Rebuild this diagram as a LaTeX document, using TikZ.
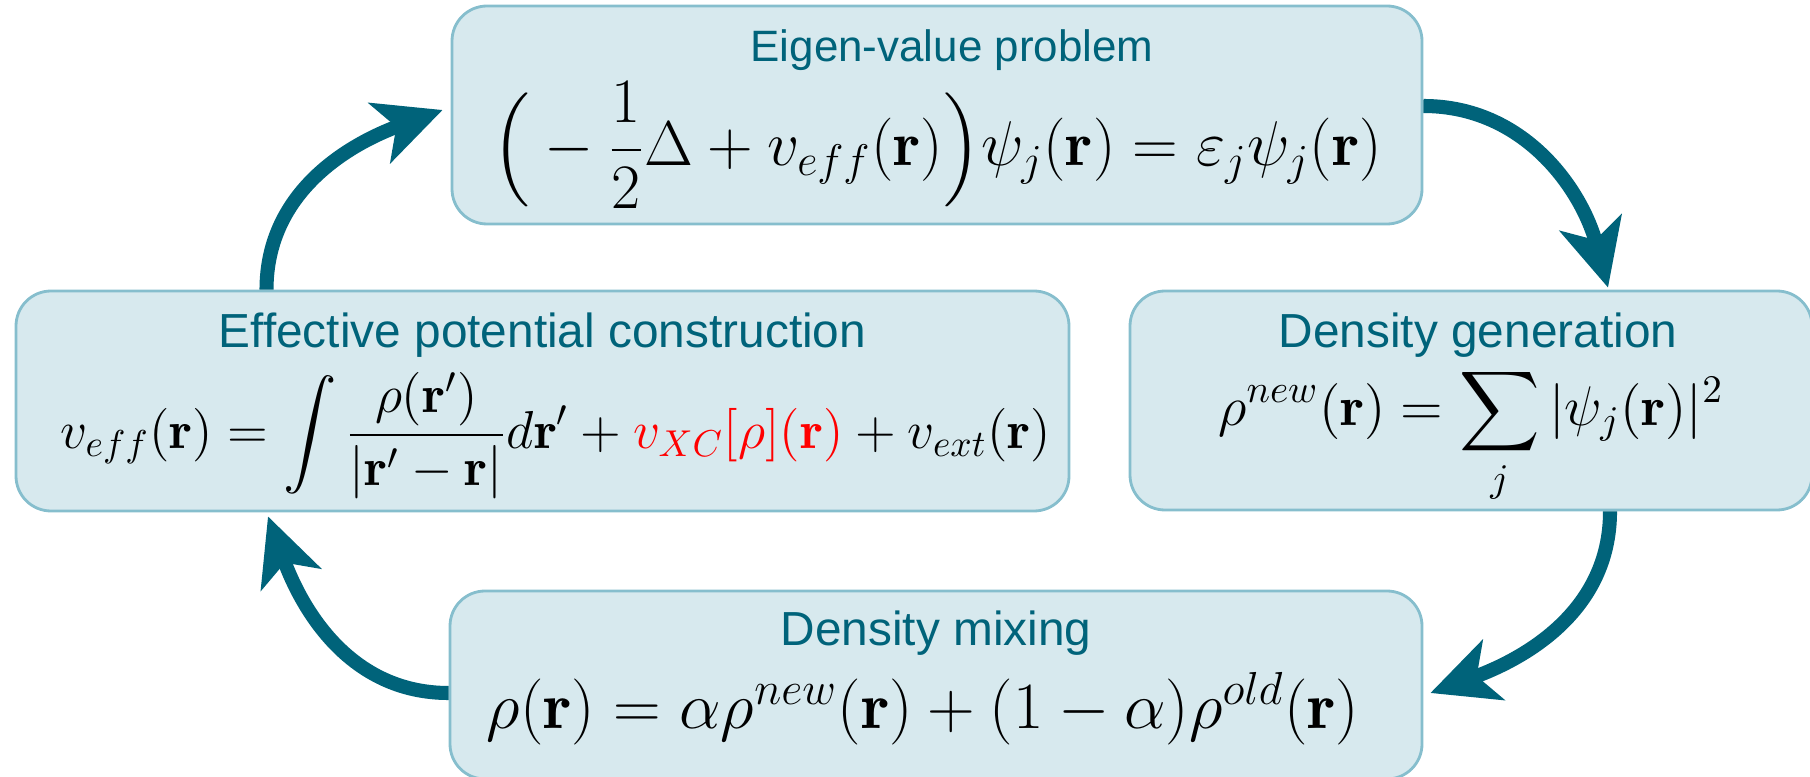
\RequirePackage{fix-cm}
\documentclass[tikz,border=0pt]{standalone}
\usepackage{amsmath, amssymb}
\usepackage{fontspec}
\newfontfamily\titlefont{Liberation Sans}
\usetikzlibrary{arrows.meta, calc, positioning}
\definecolor{boxfill}{RGB}{215,233,238}
\definecolor{boxline}{RGB}{134,190,205}
\definecolor{loopteal}{RGB}{0,99,122}

\begin{document}
\begin{tikzpicture}[
  stage/.style={draw=boxline, fill=boxfill, line width=0.8pt, rounded corners=0.35cm, inner sep=0pt},
  stagetitle/.style={text=loopteal, anchor=base, font=\titlefont\fontsize{#1}{15}\selectfont},
  stagetitle/.default=13.6,
  stageeq/.style={anchor=base, font=\fontsize{#1}{22}\selectfont},
  cyclearrow/.style={draw=loopteal, line width=4pt, -{Stealth[length=19pt, width=18pt, inset=5pt]}}
]
\useasboundingbox (0,0) rectangle (18.10,-7.77);
% the four stages
\node[stage, minimum width=9.70cm, minimum height=2.18cm] (eig) at (9.37,-1.15) {};
\node[stage, minimum width=10.53cm, minimum height=2.20cm] (eff) at (5.425,-4.01) {};
\node[stage, minimum width=6.82cm, minimum height=2.19cm] (den) at (14.71,-4.005) {};
\node[stage, minimum width=9.72cm, minimum height=1.88cm] (mix) at (9.36,-6.85) {};
% titles
\node[stagetitle=12.5] (eigtitle) at ($(eig.north)+(0.15,-0.57)$) {Eigen-value problem};
\node[stagetitle] (efftitle) at ($(eff.north)+(0,-0.58)$) {Effective potential construction};
\node[stagetitle] (dentitle) at ($(den.north)+(0.07,-0.58)$) {Density generation};
\node[stagetitle] (mixtitle) at ($(mix.north)+(0,-0.56)$) {Density mixing};
% equations
\node[stageeq=18] (eigeq) at ($(eig.north)+(0,-1.61)$)
  {$\displaystyle\Big(-\frac{1}{2}\Delta+v_{eff}(\mathbf{r})\Big)\psi_j(\mathbf{r})=\varepsilon_j\psi_j(\mathbf{r})$};
\node[stageeq=15.2] (effeq) at ($(eff.north)+(0.13,-1.59)$)
  {$\displaystyle v_{eff}(\mathbf{r})=\int\frac{\rho(\mathbf{r}')}{\left|\mathbf{r}'-\mathbf{r}\right|}d\mathbf{r}'+\textcolor{red}{v_{XC}[\rho](\mathbf{r})}+v_{ext}(\mathbf{r})$};
\node[stageeq=15.9] (deneq) at ($(den.north)+(0,-1.36)$)
  {$\displaystyle\rho^{new}(\mathbf{r})=\sum_j|\psi_j(\mathbf{r})|^2$};
\node[stageeq=18.8] (mixeq) at ($(mix.north)+(-0.13,-1.39)$)
  {$\rho(\mathbf{r})=\alpha\rho^{new}(\mathbf{r})+(1-\alpha)\rho^{old}(\mathbf{r})$};
% the self-consistency loop
\draw[cyclearrow] ([xshift=-2.76cm]eff.north) to[out=90, in=200] ([xshift=-0.08cm, yshift=0.05cm]eig.west);
\draw[cyclearrow] ([yshift=0.09cm]eig.east) to[out=0, in=105] ([xshift=1.37cm, yshift=0.02cm]den.north);
\draw[cyclearrow] ([xshift=1.39cm]den.south) to[out=-90, in=20] ([xshift=0.07cm, yshift=-0.08cm]mix.east);
\draw[cyclearrow] ([yshift=-0.08cm]mix.west) to[out=180, in=-70] ([xshift=-2.745cm, yshift=-0.04cm]eff.south);
\end{tikzpicture}
\end{document}
